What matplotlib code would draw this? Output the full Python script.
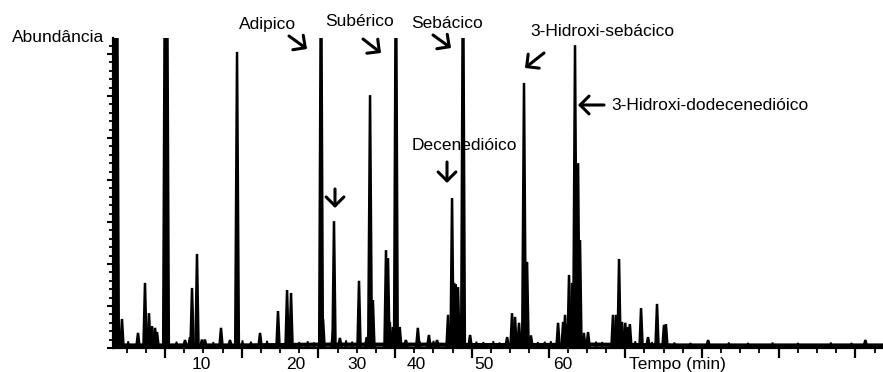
import matplotlib
matplotlib.use('Agg')
import matplotlib.pyplot as plt
from matplotlib.ticker import MultipleLocator

plt.rcParams['font.family'] = ['Liberation Sans', 'DejaVu Sans']

W, H = 883, 372

# peaks: retention time (min) and abundance (axis units)
# heights of 100 are off-scale peaks clipped at the top of the frame
peak_t = [3.42, 3.74, 4.39, 6.48, 7.39, 7.91, 8.31, 8.70, 8.96, 10.0, 10.26,
          12.61, 13.26, 13.52, 14.17, 14.82, 15.2, 17.30, 18.47, 19.39,
          22.39, 24.73, 25.91, 26.43, 30.34, 30.6, 31.9, 32.03, 32.8,
          35.29, 36.3, 36.73, 37.1, 38.81, 39.07, 39.3, 39.7, 40.1, 40.6,
          41.4, 42.96, 44.4, 45.46, 46.9, 47.42, 47.7, 47.9, 48.2, 48.6,
          48.85, 49.77, 54.6, 55.24, 55.63, 56.15, 56.8, 57.2, 57.7,
          61.24, 61.9, 62.15, 62.4, 62.67, 63.06, 63.45, 63.85, 64.1,
          64.6, 65.15, 68.4, 68.8, 69.19, 69.58, 70.0, 70.36, 70.6,
          72.06, 72.97, 74.14, 75.05, 75.3, 80.8, 101.3]
peak_h = [100, 100, 6.9, 3.6, 15.5, 8.3, 5.2, 4.8, 3.8, 100, 100,
          1.9, 2.6, 14.3, 22.4, 2.0, 2.0, 4.8, 1.9, 70.5,
          3.6, 8.8, 13.8, 13.1, 100, 6.9, 4.0, 30.2, 2.4,
          16.0, 2.6, 60.2, 11.4, 23.3, 21.4, 6.2, 5.0, 100, 5.0,
          1.9, 4.8, 3.1, 1.9, 7.9, 35.7, 15.5, 15.2, 14.5, 7.9,
          100, 3.1, 2.6, 8.3, 7.4, 6.0, 63.1, 20.5, 3.0,
          6.0, 6.2, 7.9, 5.5, 17.4, 15.5, 72.1, 44.0, 25.7,
          3.6, 3.8, 7.9, 7.9, 21.2, 6.2, 6.0, 5.0, 5.7,
          9.5, 2.6, 10.5, 5.5, 5.7, 1.9, 1.9]

# small blips of the noisy baseline
blip_t = [5.2, 11.5, 16.3, 20.1, 21.2, 23.3, 27.5, 28.6, 29.4, 33.6, 34.4,
          43.2, 45.0, 50.6, 51.5, 52.8, 53.6, 58.6, 59.5, 60.3, 66.2, 67.0,
          71.3, 73.5, 76.4, 78.5, 83.5, 86.0, 89.2, 92.5, 96.8, 99.5]
blip_h = [1.6, 1.5, 1.4, 1.8, 1.5, 1.7, 1.4, 1.6, 1.3, 1.8, 1.5,
          1.6, 1.7, 1.5, 1.4, 1.6, 1.3, 1.4, 1.5, 1.6, 1.5, 1.4,
          1.6, 1.4, 1.3, 1.2, 1.3, 1.2, 1.3, 1.2, 1.3, 1.2]

base_t = [3.22, 20.0, 30.0, 45.0, 50.0, 58.0, 66.0, 77.0, 103.6]
base_v = [0.6, 0.6, 0.8, 0.8, 0.7, 0.7, 0.8, 0.6, 0.6]

tick_text = ['10', '20', '30', '40', '50', '60', 'Tempo (min)']
tick_text_t = [14.7, 27.1, 35.0, 42.8, 51.6, 61.9, 76.8]

fig = plt.figure(figsize=(W / 100, H / 100), dpi=100)
ax = fig.add_axes([113 / W, (H - 348) / H, (W - 113) / W, (348 - 38) / H])
ax.set_xlim(3.22, 103.6)
ax.set_ylim(0, 73.8)

ax.plot(base_t, base_v, color='k', lw=3, solid_capstyle='butt')
for t, h in zip(blip_t, blip_h):
    ax.fill([t - 0.15, t, t + 0.15], [0.5, h, 0.5], color='k', lw=1.2)
for t, h in zip(peak_t, peak_h):
    hw = 0.24 if h > 50 else 0.2
    ax.fill([t - hw, t, t + hw], [0.5, h, 0.5], facecolor='k', edgecolor='k', lw=1.8)

for s in ['top', 'right']:
    ax.spines[s].set_visible(False)
for s in ['left', 'bottom']:
    ax.spines[s].set_linewidth(1.6)

ax.xaxis.set_major_locator(MultipleLocator(10))
ax.xaxis.set_minor_locator(MultipleLocator(2.5))
ax.yaxis.set_major_locator(MultipleLocator(10))
ax.yaxis.set_minor_locator(MultipleLocator(2))
ax.tick_params(axis='x', which='major', direction='out', length=7, width=1.6,
               labelbottom=False)
ax.tick_params(axis='x', which='minor', direction='out', length=3.5, width=1.3)
ax.tick_params(axis='y', which='major', direction='out', length=4.5, width=1.5,
               labelleft=False)
ax.tick_params(axis='y', which='minor', direction='out', length=3, width=1.3)

for lab, t in zip(tick_text, tick_text_t):
    ax.text(t, -4.0, lab, ha='center', va='center', fontsize=12.5, clip_on=False)


def px(x, y):
    return (x / W, 1 - y / H)


fig.text(*px(12, 37), 'Abundância', ha='left', va='center', fontsize=12.5)

# compound labels: (text, text centre px), arrows: (tail px, head px)
name_pos = [('Adipico', (268, 24)), ('Subérico', (360, 22)),
            ('Sebácico', (447, 23)), ('Decenedióico', (464, 146)),
            ('3-Hidroxi-sebácico', (602, 31)),
            ('3-Hidroxi-dodecenedióico', (710, 105))]
for name, (x, y) in name_pos:
    fig.text(*px(x, y), name, ha='center', va='center', fontsize=12.5)

arrows = [((289, 36), (307, 49)), ((363, 39), (381, 53)),
          ((433, 35), (451, 48)), ((335, 189), (335, 208)),
          ((447, 162), (447, 183)), ((544, 53), (525, 68)),
          ((604, 105), (578, 105))]
for tail, head in arrows:
    fig.add_artist(matplotlib.patches.FancyArrowPatch(
        px(*tail), px(*head), transform=fig.transFigure,
        arrowstyle='->,head_length=0.32,head_width=0.32',
        mutation_scale=20, lw=2.2, color='k', shrinkA=0, shrinkB=0))

fig.savefig('out.png', dpi=100)
